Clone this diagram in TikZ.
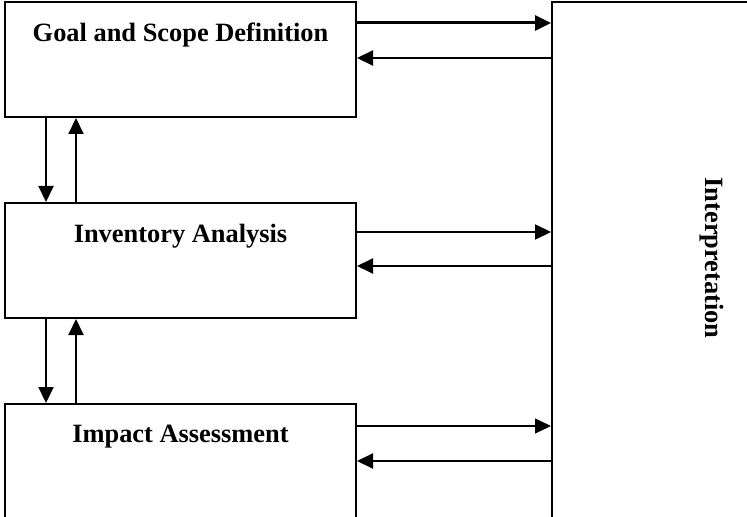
\documentclass[tikz,border=0pt]{standalone}
\usepackage{fontspec}
\setmainfont{Liberation Serif}
\usetikzlibrary{arrows.meta,positioning,calc}
\tikzset{
    >={Triangle[length=8pt,width=7.5pt]},
    stage/.style={
        draw=black,
        line width=1pt,
        minimum width=175.5pt,
        minimum height=57.5pt,
        inner sep=0pt,
    },
    stagename/.style={
        font=\fontsize{13.2}{16}\selectfont\bfseries,
        anchor=center,
        yshift=-17pt,
    },
    interpbox/.style={
        draw=black,
        line width=1pt,
        minimum width=200pt,
        minimum height=300pt,
        inner sep=0pt,
    },
    link/.style={->, line width=1pt},
    link'/.style={->, line width=1.5pt},
    thinlink/.style={->, line width=0.6pt},
}

\begin{document}
\begin{tikzpicture}[x=0.5pt, y=-0.5pt]
            \clip (0,0) rectangle (747,517);

            \node[stage, label={[stagename]north:Goal and Scope Definition}] (goal) at (180.5,59.5) {};
            \node[stage, below=42pt of goal, label={[stagename]north:Inventory Analysis}] (inventory) {};
            \node[stage, below=42pt of inventory, label={[stagename]north:Impact Assessment}] (impact) {};
            \node[interpbox, anchor=north west] (interp) at ([xshift=97pt]goal.north east) {};
            \node[font=\fontsize{13.2}{16}\selectfont\bfseries, rotate=-90] (interpname) at (712,258) {Interpretation};

            % stages <-> interpretation
            \coordinate (g1) at ($(goal.north east)+(0,22)$);
            \coordinate (g2) at ($(goal.north east)+(0,57)$);
            \coordinate (i1) at ($(inventory.north east)+(0,30)$);
            \coordinate (i2) at ($(inventory.north east)+(0,64)$);
            \coordinate (a1) at ($(impact.north east)+(0,23)$);
            \coordinate (a2) at ($(impact.north east)+(0,58)$);
            \draw[link'] (g1) -- (g1 -| interp.west);
            \draw[link] (g2 -| interp.west) -- (g2);
            \draw[link] (i1) -- (i1 -| interp.west);
            \draw[link] (i2 -| interp.west) -- (i2);
            \draw[thinlink] (a1) -- (a1 -| interp.west);
            \draw[link] (a2 -| interp.west) -- (a2);

            % stage to stage
            \foreach \upper/\lower in {goal/inventory, inventory/impact}{
                \draw[link] ($(\upper.south west)+(42,0)$) -- ($(\lower.north west)+(42,0)$);
                \draw[link] ($(\lower.north west)+(72,0)$) -- ($(\upper.south west)+(72,0)$);
            }
        \end{tikzpicture}
\end{document}
